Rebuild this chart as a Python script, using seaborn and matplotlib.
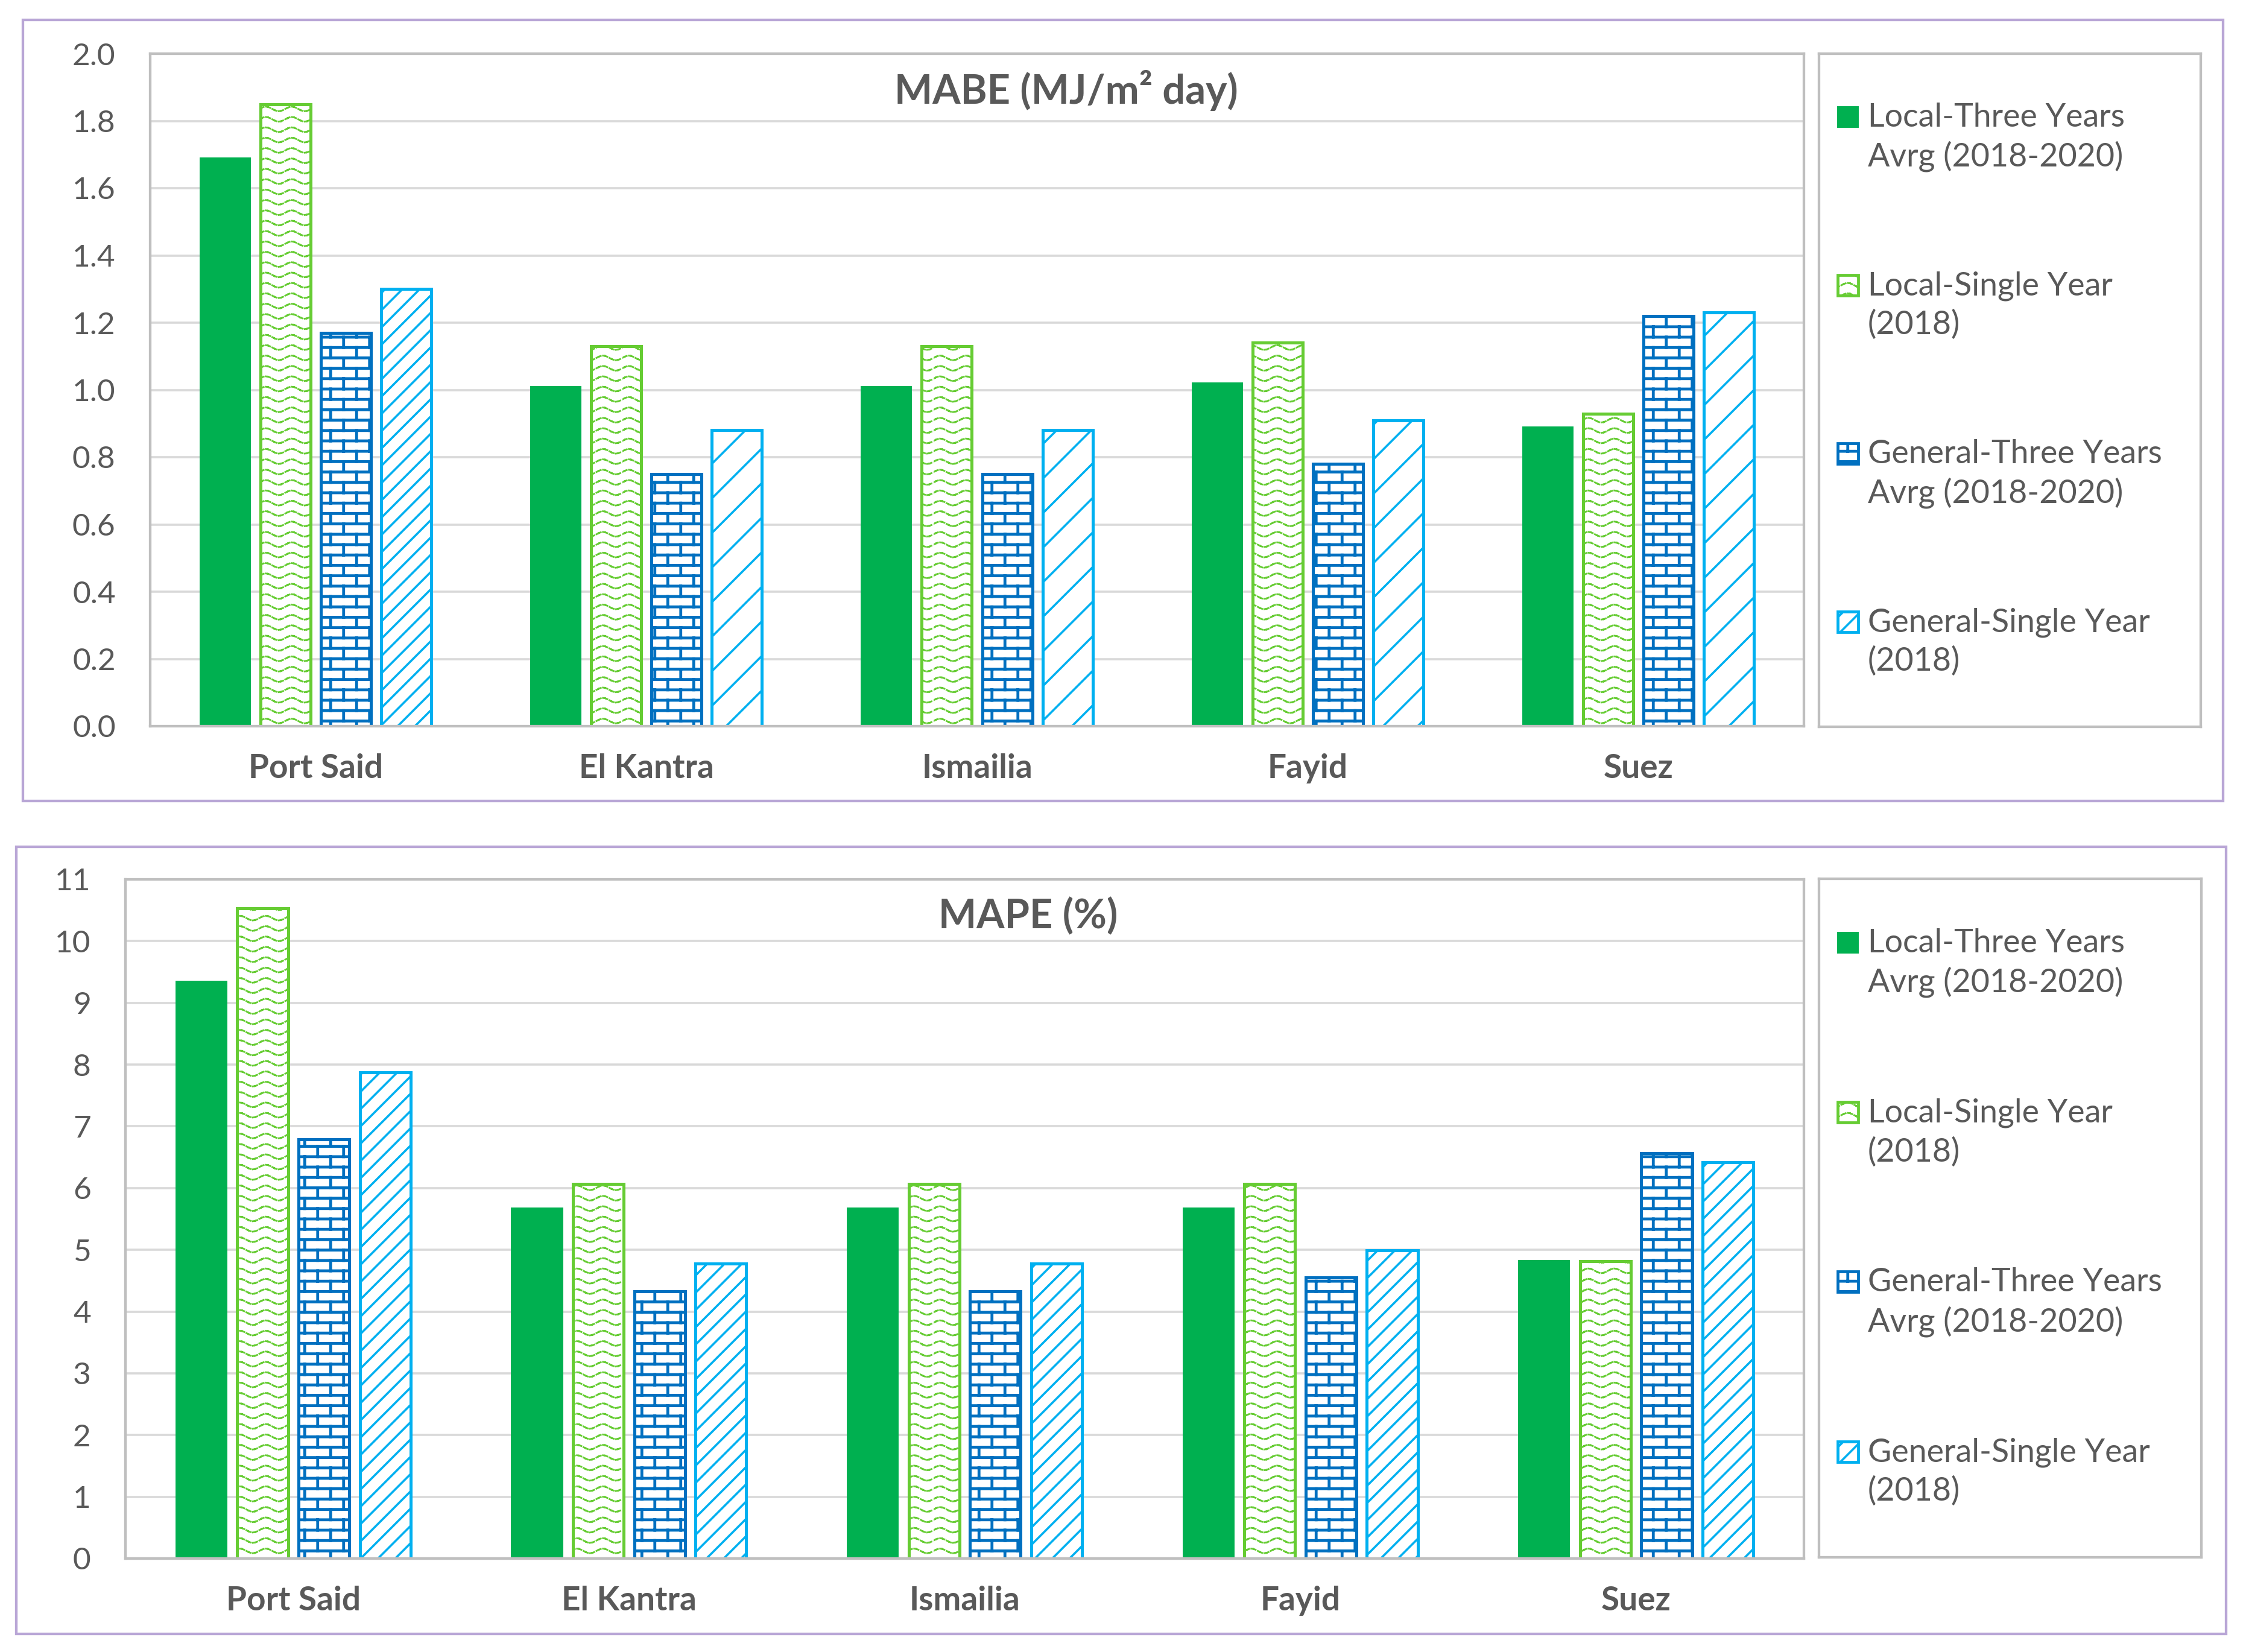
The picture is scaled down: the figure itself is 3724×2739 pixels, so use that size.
import warnings
import numpy as np
import pandas as pd
import matplotlib
matplotlib.use("Agg")
import matplotlib.pyplot as plt
from matplotlib import hatch as mhatch
from matplotlib.path import Path
from matplotlib.patches import Rectangle
from matplotlib.ticker import FormatStrFormatter
import seaborn as sns

warnings.filterwarnings("ignore")

# ---------------- data ----------------
stations = ["Port Said", "El Kantra", "Ismailia", "Fayid", "Suez"]
models = ["Local-Three Years\nAvrg (2018-2020)",
          "Local-Single Year\n(2018)",
          "General-Three Years\nAvrg (2018-2020)",
          "General-Single Year\n(2018)"]

mabe_local_three = [1.69, 1.01, 1.01, 1.02, 0.89]
mabe_local_single = [1.85, 1.13, 1.13, 1.14, 0.93]
mabe_general_three = [1.17, 0.75, 0.75, 0.78, 1.22]
mabe_general_single = [1.30, 0.88, 0.88, 0.91, 1.23]

mape_local_three = [9.35, 5.68, 5.68, 5.68, 4.83]
mape_local_single = [10.53, 6.07, 6.07, 6.07, 4.82]
mape_general_three = [6.79, 4.33, 4.33, 4.55, 6.56]
mape_general_single = [7.87, 4.78, 4.78, 4.99, 6.42]

mabe_title = "MABE (MJ/m\u00b2 day)"
mape_title = "MAPE (%)"

# ---------------- custom hatches ----------------
class WaveHatch(mhatch.HatchPatternBase):
    def __init__(self, hatch, density):
        segs = []
        if hatch.count('*'):
            rows, periods, steps = 10, 4, 12
            amp = 0.22 / rows
            xs = np.linspace(0, 1, periods * steps + 1)
            for i in range(rows):
                y0 = (i + 0.5) / rows
                ys = y0 + amp * np.sin(2 * np.pi * periods * xs)
                for k in range(len(xs) - 1):
                    if k % 3 != 2:
                        segs.append(((xs[k], ys[k]), (xs[k + 1], ys[k + 1])))
        self.segs = segs
        self.num_vertices = 2 * len(segs)

    def set_vertices_and_codes(self, vertices, codes):
        vertices[:] = np.array(self.segs, dtype=float).reshape(-1, 2)
        codes[0::2] = Path.MOVETO
        codes[1::2] = Path.LINETO


class BrickHatch(mhatch.HatchPatternBase):
    def __init__(self, hatch, density):
        segs = []
        if hatch.count('O'):
            rows, nb = 10, 4
            for i in range(rows):
                y = (i + 0.5) / rows
                segs.append(((0.0, y), (1.0, y)))
            for i in range(-1, rows):
                y0 = max((i + 0.5) / rows, 0.0)
                y1 = min((i + 1.5) / rows, 1.0)
                off = 0.5 * (i % 2)
                for j in range(nb):
                    x = (j + 0.25 + off) / nb
                    segs.append(((x, y0), (x, y1)))
        self.segs = segs
        self.num_vertices = 2 * len(segs)

    def set_vertices_and_codes(self, vertices, codes):
        vertices[:] = np.array(self.segs, dtype=float).reshape(-1, 2)
        codes[0::2] = Path.MOVETO
        codes[1::2] = Path.LINETO


mhatch._hatch_types = [t for t in mhatch._hatch_types
                       if t not in (mhatch.Stars, mhatch.LargeCircles)] + [WaveHatch, BrickHatch]

# ---------------- style ----------------
sns.set_style("white")
plt.rcParams['font.family'] = ['Lato', 'DejaVu Sans']
plt.rcParams['hatch.linewidth'] = 1.8

TXT = "#595959"
GRID = "#D9D9D9"
FRAME = "#BFBFBF"
PURPLE = "#B9A6D6"
colors = ["#00B050", "#66CC33", "#0070C0", "#00B0F0"]
hatch_lw = [None, 1.2, 2.0, 1.5]

W, H = 3724, 2739
DPI = 172
fig = plt.figure(figsize=(W / DPI, H / DPI), dpi=DPI)
fig.patch.set_facecolor("white")


def fx(px):
    return px / W


def fy(py):
    return 1 - py / H


def panel(axrect, series, ylim, yticks, fmt, title, title_xy, cyan_hatches, legrect):
    x0, y0, x1, y1 = axrect
    ax = fig.add_axes([fx(x0), fy(y1), (x1 - x0) / W, (y1 - y0) / H])
    df = pd.DataFrame({
        "Station": stations * len(models),
        "Model": [m for m in models for _ in stations],
        "Value": [v for s in series for v in s],
    })
    sns.barplot(data=df, x="Station", y="Value", hue="Model", order=stations,
                hue_order=models, palette=colors, saturation=1, width=0.73,
                gap=0.17, errorbar=None, legend=False, ax=ax)
    hatch_sets = [None, ['*'] * 5, ['O'] * 5, cyan_hatches]
    for k, cont in enumerate(ax.containers):
        for j, bar in enumerate(cont.patches):
            if k == 0:
                bar.set_facecolor(colors[0])
                bar.set_edgecolor(colors[0])
                bar.set_linewidth(0.8)
            else:
                bar.set_facecolor("white")
                bar.set_edgecolor(colors[k])
                bar.set_linewidth(2.1)
                bar.set_hatch(hatch_sets[k][j])
                if hasattr(bar, "set_hatch_linewidth"):
                    bar.set_hatch_linewidth(hatch_lw[k])
    ax.set_xlim(-0.5, len(stations) - 0.5)
    ax.set_ylim(*ylim)
    ax.set_yticks(yticks)
    ax.yaxis.set_major_formatter(FormatStrFormatter(fmt))
    ax.set_xlabel("")
    ax.set_ylabel("")
    ax.grid(axis="y", color=GRID, lw=1.5)
    ax.grid(axis="x", visible=False)
    ax.set_axisbelow(True)
    for s in ax.spines.values():
        s.set_visible(True)
        s.set_color(FRAME)
        s.set_linewidth(1.8)
    ax.tick_params(axis="both", length=0, labelcolor=TXT)
    ax.tick_params(axis="y", labelsize=21.5, pad=24)
    ax.tick_params(axis="x", labelsize=23, pad=19)
    for t in ax.get_xticklabels():
        t.set_fontweight("bold")
    ax.text(title_xy[0], title_xy[1], title, transform=ax.transAxes, ha="center",
            va="center", fontsize=28, fontweight="bold", color=TXT)

    # legend panel
    lx0, ly0, lx1, ly1 = legrect
    lax = fig.add_axes([fx(lx0), fy(ly1), (lx1 - lx0) / W, (ly1 - ly0) / H])
    lax.set_xlim(0, 1)
    lax.set_ylim(0, 1)
    lax.set_xticks([])
    lax.set_yticks([])
    for s in lax.spines.values():
        s.set_visible(True)
        s.set_color(FRAME)
        s.set_linewidth(1.8)
    lw_ = lx1 - lx0
    lh_ = ly1 - ly0
    hs = 34
    for k, lab in enumerate(models):
        yc = 1 - (0.094 + 0.25 * k)
        if k == 0:
            r = Rectangle((31 / lw_, yc - hs / 2 / lh_), hs / lw_, hs / lh_,
                          facecolor=colors[0], edgecolor=colors[0], lw=0.8,
                          transform=lax.transAxes)
        else:
            r = Rectangle((31 / lw_, yc - hs / 2 / lh_), hs / lw_, hs / lh_,
                          facecolor="white", edgecolor=colors[k], lw=2.0,
                          hatch=hatch_sets[k][0], transform=lax.transAxes)
            if hasattr(r, "set_hatch_linewidth"):
                r.set_hatch_linewidth(hatch_lw[k])
        lax.add_patch(r)
        lax.text(81 / lw_, yc - 0.030, lab, transform=lax.transAxes, ha="left",
                 va="center", fontsize=22.5, color=TXT, linespacing=1.35)
    return ax


panel((249, 89, 2991, 1204),
      [mabe_local_three, mabe_local_single, mabe_general_three, mabe_general_single],
      (0, 2.0), np.round(np.arange(0, 2.01, 0.2), 1), "%.1f",
      mabe_title, ((1768 - 249) / (2991 - 249), 1 - (150 - 89) / (1204 - 89)),
      ['//', '/', '/', '/', '/'], (3016, 89, 3649, 1205))

panel((208, 1458, 2991, 2584),
      [mape_local_three, mape_local_single, mape_general_three, mape_general_single],
      (0, 11), np.arange(0, 12, 1), "%d",
      mape_title, ((1705 - 208) / (2991 - 208), 1 - (1520 - 1458) / (2584 - 1458)),
      ['//'] * 5, (3016, 1457, 3650, 2582))

# purple panel borders
for (x0, y0, x1, y1) in [(38, 33, 3686, 1328), (27, 1404, 3691, 2709)]:
    fig.add_artist(Rectangle((fx(x0), fy(y1)), (x1 - x0) / W, (y1 - y0) / H,
                             transform=fig.transFigure, fill=False,
                             edgecolor=PURPLE, lw=1.8))

fig.savefig("out.png", dpi=DPI, facecolor="white")
